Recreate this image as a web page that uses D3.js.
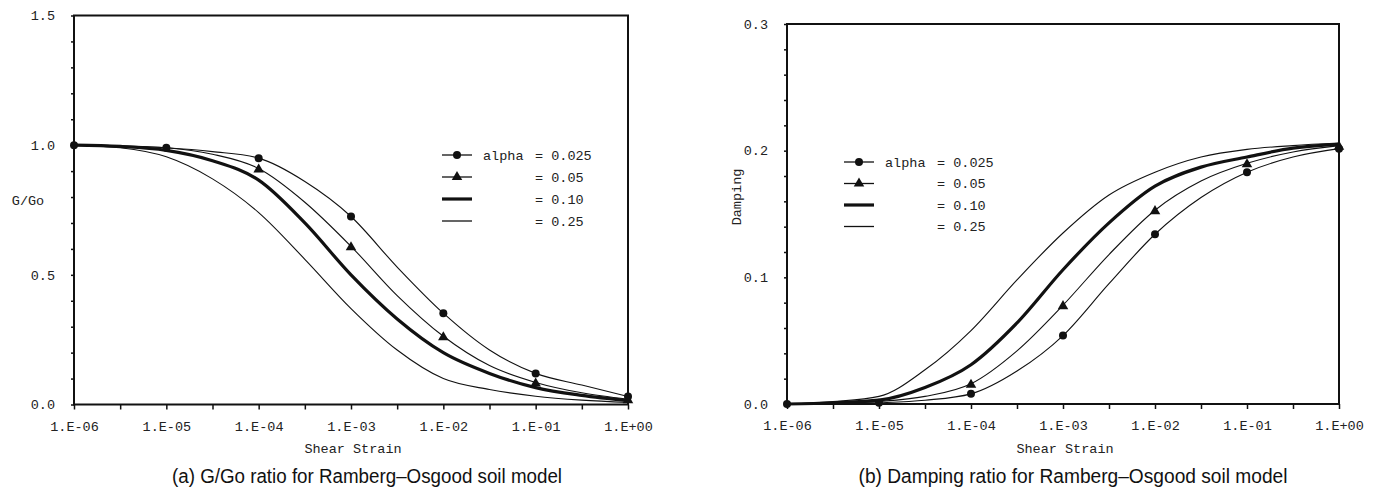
<!DOCTYPE html>
<html><head><meta charset="utf-8">
<script src="https://cdn.jsdelivr.net/npm/d3@7"></script>
<style>
body{margin:0;background:#fff;}
svg{display:block;}
.mono{font-family:"Liberation Mono","DejaVu Sans Mono",monospace;font-size:13.5px;fill:#222;}
.cap{font-family:"Liberation Sans",Arial,sans-serif;font-size:20px;fill:#111;}
</style></head>
<body>
<svg id="c" width="1378" height="492"></svg>
<script>
// ---- data ----
const strainExp = [-6,-5.5,-5,-4.5,-4,-3.5,-3,-2.5,-2,-1.5,-1,-0.5,0];
const decadeExp = [-6,-5,-4,-3,-2,-1,0];
const xTickLabels = ["1.E-06","1.E-05","1.E-04","1.E-03","1.E-02","1.E-01","1.E+00"];
const alphaLabels = ["0.025","0.05","0.10","0.25"];

// G/Go ratio
const gA025 = [1.0,0.998,0.99,0.975,0.95,0.86,0.725,0.53,0.352,0.21,0.12,0.075,0.031];
const gA05  = [1.0,0.997,0.99,0.965,0.91,0.78,0.61,0.42,0.263,0.15,0.085,0.045,0.02];
const gA10  = [1.0,0.995,0.98,0.94,0.865,0.70,0.50,0.33,0.20,0.12,0.065,0.035,0.015];
const gA25  = [1.0,0.99,0.955,0.87,0.74,0.56,0.37,0.21,0.10,0.058,0.032,0.017,0.008];
// Damping ratio
const dA025 = [0.0,0.0,0.001,0.003,0.008,0.026,0.054,0.095,0.134,0.163,0.183,0.195,0.2016];
const dA05  = [0.0,0.0005,0.002,0.006,0.016,0.042,0.078,0.118,0.153,0.176,0.19,0.199,0.204];
const dA10  = [0.0,0.001,0.003,0.013,0.031,0.064,0.106,0.143,0.172,0.187,0.195,0.202,0.205];
const dA25  = [0.0,0.002,0.006,0.027,0.058,0.098,0.135,0.165,0.183,0.195,0.201,0.204,0.206];

const gTicksMajor = [0,0.5,1.0,1.5];
const dTicksMajor = [0,0.1,0.2,0.3];

const svg = d3.select("#c");

function panel(opt){
  const x = d3.scaleLog().domain([1e-6,1]).range([opt.x0,opt.x1]);
  const y = d3.scaleLinear().domain([0,opt.ymax]).range([opt.yb,opt.yt]);
  const g = svg.append("g");
  const lineGen = d3.line().x(d=>x(Math.pow(10,d[0]))).y(d=>y(d[1])).curve(d3.curveMonotoneX);
  const series = [
    {v:opt.s[0], w:1.1, m:"circle", mk:decadeExp},
    {v:opt.s[1], w:1.1, m:"tri", mk:decadeExp.slice(opt.triStart)},
    {v:opt.s[2], w:3.2, m:null},
    {v:opt.s[3], w:1.1, m:null}
  ];
  series.forEach(s=>{
    g.append("path").datum(strainExp.map((e,i)=>[e,s.v[i]]))
      .attr("d",lineGen).attr("fill","none").attr("stroke","#111").attr("stroke-width",s.w)
      .attr("stroke-linejoin","round");
  });
  // markers
  [series[1],series[0]].forEach(s=>{
    s.mk.forEach(e=>{
      const i = strainExp.indexOf(e);
      const px = x(Math.pow(10,e)), py = y(s.v[i]);
      if(s.m==="circle") g.append("circle").attr("cx",px).attr("cy",py).attr("r",4).attr("fill","#111");
      else g.append("path").attr("d",d3.symbol(d3.symbolTriangle,48)()).attr("transform",`translate(${px},${py+1})`).attr("fill","#111");
    });
  });
  // frame
  g.append("rect").attr("x",opt.x0).attr("y",opt.yt).attr("width",opt.x1-opt.x0).attr("height",opt.yb-opt.yt)
    .attr("fill","none").attr("stroke","#111").attr("stroke-width",2);
  // x axis
  const xt = d3.range(-6,0.01,0.5).map(e=>Math.pow(10,e));
  const xa = g.append("g").attr("transform",`translate(0,${opt.yb})`)
    .call(d3.axisBottom(x).tickValues(xt).tickSize(5).tickFormat((d)=>{
      const e = Math.round(Math.log10(d)*2)/2;
      const k = decadeExp.indexOf(e);
      return k>=0 ? xTickLabels[k] : "";
    }));
  xa.select(".domain").remove();
  xa.selectAll("line").attr("stroke","#111").attr("stroke-width",1.5);
  xa.selectAll("text").attr("class","mono").attr("y",26).attr("dy",0);
  xa.attr("font-size",null).attr("font-family",null);
  // y axis
  const ya = g.append("g").attr("transform",`translate(${opt.x0},0)`)
    .call(d3.axisLeft(y).tickValues(d3.range(0,opt.ymax+1e-9,opt.minor)).tickSize(3).tickPadding(16)
      .tickFormat(d=>{
        const k = opt.major.findIndex(m=>Math.abs(m-d)<1e-9);
        return k>=0 ? opt.major[k].toFixed(1) : "";
      }));
  ya.select(".domain").remove();
  ya.selectAll("line").attr("stroke","#111").attr("stroke-width",1.5);
  ya.selectAll("text").attr("class","mono");
  ya.attr("font-size",null).attr("font-family",null);
  // axis titles
  g.append("text").attr("class","mono").attr("x",(opt.x0+opt.x1)/2+2).attr("y",453).attr("text-anchor","middle").text("Shear Strain");
  if(opt.yRot){
    g.append("text").attr("class","mono").attr("transform",`translate(${opt.ylx},${opt.yly}) rotate(-90)`).attr("text-anchor","middle").attr("dy","0.35em").text(opt.ylabel);
  } else {
    g.append("text").attr("class","mono").attr("x",opt.ylx).attr("y",opt.yly).attr("text-anchor","middle").attr("dy","0.35em").text(opt.ylabel);
  }
  // caption
  g.append("text").attr("class","cap").attr("x",opt.capx).attr("y",483).attr("text-anchor","middle")
    .attr("textLength",opt.capw).attr("lengthAdjust","spacingAndGlyphs").text(opt.caption);
  // legend
  const L = opt.leg;
  series.forEach((s,i)=>{
    const yy = L.y + i*L.dy;
    g.append("line").attr("x1",L.x).attr("x2",L.x+30).attr("y1",yy).attr("y2",yy).attr("stroke","#111").attr("stroke-width",s.w===3.2?3.2:1.3);
    if(s.m==="circle") g.append("circle").attr("cx",L.x+15).attr("cy",yy).attr("r",4).attr("fill","#111");
    if(s.m==="tri") g.append("path").attr("d",d3.symbol(d3.symbolTriangle,48)()).attr("transform",`translate(${L.x+15},${yy})`).attr("fill","#111");
    if(i===0) g.append("text").attr("class","mono").attr("x",L.x+41).attr("y",yy).attr("dy","0.35em").text("alpha");
    g.append("text").attr("class","mono").attr("x",L.x+93).attr("y",yy).attr("dy","0.35em").text("= "+alphaLabels[i]);
  });
}

panel({x0:74,x1:628,yt:15.5,yb:404.5,ymax:1.5,minor:0.1,major:gTicksMajor,
  s:[gA025,gA05,gA10,gA25],triStart:2,ylabel:"G/Go",ylx:28,yly:200,yRot:false,
  caption:"(a) G/Go ratio for Ramberg\u2013Osgood soil model",capx:367,capw:390,
  leg:{x:442,y:155,dy:22}});
panel({x0:787,x1:1339,yt:24,yb:404,ymax:0.3,minor:0.02,major:dTicksMajor,
  s:[dA025,dA05,dA10,dA25],triStart:2,ylabel:"Damping",ylx:736,yly:197,yRot:true,
  caption:"(b) Damping ratio for Ramberg\u2013Osgood soil model",capx:1073,capw:429,
  leg:{x:844,y:162,dy:21.5}});
</script>
</body></html>
